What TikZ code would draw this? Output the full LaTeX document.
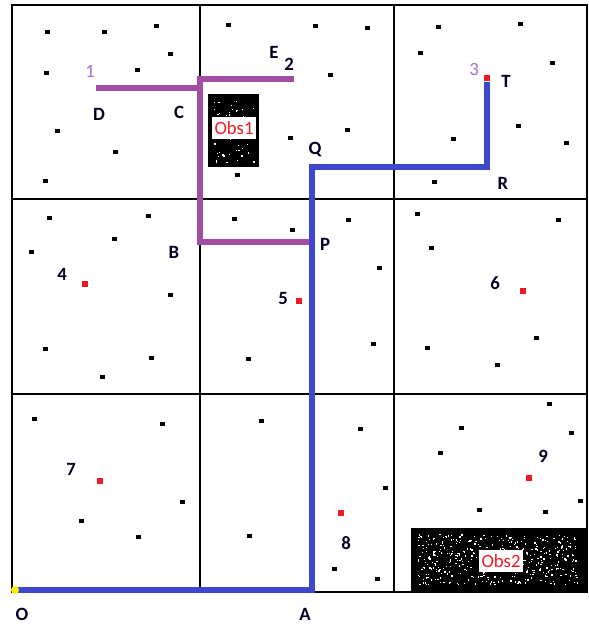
\documentclass[tikz,border=0pt]{standalone}
\usepackage{fontspec}
\setmainfont{Carlito}
\definecolor{routeA}{HTML}{A34DA3}
\definecolor{routeB}{HTML}{3F48CC}
\definecolor{goalred}{HTML}{ED1C24}
\definecolor{lightviolet}{HTML}{A070C8}
\tikzset{
  cellline/.style={line width=1.6pt},
  routeAline/.style={routeA,line width=5.5pt,line cap=rect},
  routeBline/.style={routeB,line width=5.5pt},
  goal/.style={fill=goalred,inner sep=0pt,minimum width=5.5pt,minimum height=5.5pt},
  obsbox/.style={fill=black},
  obslabel/.style={fill=white,text=goalred,inner xsep=2pt,inner ysep=3.5pt,font=\fontsize{16}{18}\selectfont},
  lbl/.style={text=black!85!blue,font=\fontsize{16}{18}\selectfont\bfseries}
}
\begin{document}
\begin{tikzpicture}[x=0.03cm, y=-0.03cm, every node/.style={font=\fontsize{16}{18}\selectfont}]
\useasboundingbox (0,0) rectangle (588,625);
% cells
\draw[line width=2.4pt] (12,5) rectangle (587,592);
\foreach \x in {200,394} \draw[cellline] (\x,5) -- (\x,592);
\foreach \y in {199,394} \draw[cellline] (12,\y) -- (587,\y);
% obstacles
\fill[obsbox] (208,94) rectangle (259,167);
\fill[obsbox] (411,528) rectangle (587,592);
\pgfmathsetseed{42}
\foreach \i in {1,...,60} {
  \pgfmathsetmacro{\sx}{213+41*rnd}
  \pgfmathsetmacro{\sy}{100+62*rnd}
  \fill[white] (\sx,\sy) rectangle ++(1.3,1.3);
}
\foreach \i in {1,...,420} {
  \pgfmathsetmacro{\sx}{417+160*rnd}
  \pgfmathsetmacro{\sy}{534+50*rnd}
  \fill[white] (\sx,\sy) rectangle ++(1.3,1.3);
}
\node[obslabel] (obs1) at (234,128) {Obs1};
\node[obslabel] (obs2) at (501,561) {Obs2};
% scattered dots
\foreach \x/\y in {47/32, 104/32, 156/26, 170/54, 46/73, 137/70, 57/131, 115/152, 45/181,
  228/25, 315/26, 367/28, 330/75, 290/138, 347/130, 237/175,
  438/27, 520/24, 420/53, 552/63, 518/126, 453/139, 566/143, 434/182,
  49/218, 148/216, 114/239, 31/252, 170/295, 45/349, 151/358, 102/377,
  234/219, 292/230, 348/220, 379/268, 373/344, 248/359,
  417/214, 558/220, 431/248, 427/348, 536/338, 497/365,
  34/419, 162/424, 182/502, 81/521, 138/537,
  261/421, 360/429, 385/488, 249/536, 334/569, 377/579,
  549/404, 461/428, 571/433, 440/453, 580/501, 479/510, 545/512}
  \fill (\x-2.5,\y-2) rectangle (\x+2.5,\y+2);
% goals
\foreach \n/\x/\y in {1/99/88, 2/291/79, 3/487/78, 4/85/284, 5/299/301, 6/523/291, 7/100/481, 8/341/513, 9/529/478}
  \node[goal] (g\n) at (\x,\y) {};
% routes
\coordinate (cC) at (200,88);
\coordinate (cE) at (200,79);
\coordinate (cB) at (200,242);
\coordinate (cP) at (312,242);
\coordinate (cO) at (15,590);
\coordinate (cA) at (312,590);
\coordinate (cQ) at (312,167);
\coordinate (cR) at (487,167);
\coordinate (cT) at (487,82);
\draw[routeAline] (g1.center) -- (cC);
\draw[routeAline] (g2.center) -- (cE) -- (cB) -- (cP);
\draw[routeBline] (cO) -- (cA) -- (cQ) -- (cR) -- (cT);
\fill[yellow] (cO) circle (4);
% labels
\node[lbl] (lD) at (99,114) {D};
\node[lbl] (lC) at (179,112) {C};
\node[lbl] (lE) at (274,52) {E};
\node[lbl] (lQ) at (315,150) {Q};
\node[lbl] (lT) at (506,81) {T};
\node[lbl] (lR) at (503,183) {R};
\node[lbl] (lB) at (174,252) {B};
\node[lbl] (lP) at (325,244) {P};
\node[lbl] (lO) at (22,614) {O};
\node[lbl] (lA) at (305,614) {A};
\node[lbl,text=lightviolet,font=\fontsize{16}{18}\selectfont] (n1) at (90,71) {1};
\node[lbl] (n2) at (289,64) {2};
\node[lbl,text=lightviolet,font=\fontsize{16}{18}\selectfont] (n3) at (474,69) {3};
\foreach \n/\x/\y in {4/62/274, 5/283/298, 6/495/283, 7/71/469, 8/346/543, 9/543/456}
  \node[lbl] (n\n) at (\x,\y) {\n};
\end{tikzpicture}
\end{document}
